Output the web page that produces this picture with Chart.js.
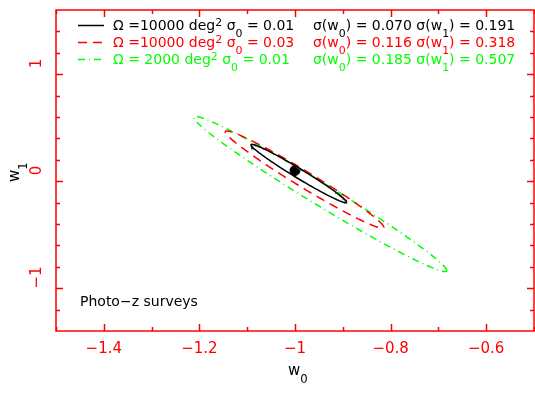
<!DOCTYPE html>
<html>
<head>
<meta charset="utf-8">
<script src="https://cdn.jsdelivr.net/npm/chart.js@4"></script>
<style>
  body { margin: 0; background: #fff; }
  #wrap { width: 535px; height: 393px; }
</style>
</head>
<body>
<div id="wrap"><canvas id="chart"></canvas></div>
<script>
// Surveys: sky area (deg^2), photo-z scatter, and forecast errors on w0 / w1
const areaDeg2 = [10000, 10000, 2000];
const sigmaZ = [0.01, 0.03, 0.01];
const sigmaW0 = [0.070, 0.116, 0.185];
const sigmaW1 = [0.191, 0.318, 0.507];
// contour centres and w0-w1 correlation
const centerW0 = [-0.992, -0.980, -0.947];
const centerW1 = [-0.028, -0.085, -0.220];
const corrW0W1 = [-0.982, -0.981, -0.986];
const fiducial = [-1, 0];
const xTicks = [-1.4, -1.2, -1, -0.8, -0.6];
const yTicks = [-1, 0, 1];
const panelLabel = 'Photo\u2212z surveys';

const colors = ['#000000', '#ff0000', '#00ff00'];
const dashes = [[], [9, 6], [7, 4, 1, 4]];
const CL = 1.43;   // contour radius in units of sigma
const FONT = '"DejaVu Sans", sans-serif';
const RED = '#ff0000';

function contour(i) {
    const pts = [];
    const n = 240;
    const r = corrW0W1[i];
    const q = Math.sqrt(1 - r * r);
    for (let k = 0; k <= n; k++) {
        const t = 2 * Math.PI * k / n;
        pts.push({
            x: centerW0[i] + CL * sigmaW0[i] * Math.cos(t),
            y: centerW1[i] + CL * sigmaW1[i] * (r * Math.cos(t) + q * Math.sin(t))
        });
    }
    return pts;
}

function minus(v) {
    return String(v).replace('-', '\u2212');
}

// text with _{sub} and ^{sup} parts
function drawRich(ctx, str, x, y, size, color) {
    const parts = str.split(/([_^]\{[^}]*\})/);
    ctx.fillStyle = color;
    ctx.textAlign = 'left';
    ctx.textBaseline = 'alphabetic';
    for (const p of parts) {
        if (!p) continue;
        let txt = p, fs = size, dy = 0;
        if (p[0] === '_') { txt = p.slice(2, -1); fs = size * 0.78; dy = size * 0.5; }
        else if (p[0] === '^') { txt = p.slice(2, -1); fs = size * 0.78; dy = -size * 0.26; }
        ctx.font = fs + 'px ' + FONT;
        ctx.fillText(txt, x, y + dy);
        x += ctx.measureText(txt).width;
    }
}

// red frame with inward ticks on all four sides, legend and labels
const framePlugin = {
    id: 'frame',
    afterDatasetsDraw(chart) {
        const ctx = chart.ctx;
        const a = chart.chartArea;
        const xs = chart.scales.x, ys = chart.scales.y;
        ctx.save();
        ctx.strokeStyle = RED;
        ctx.lineWidth = 1.5;
        ctx.strokeRect(a.left, a.top, a.right - a.left, a.bottom - a.top);
        ctx.beginPath();
        for (let k = 0; k <= 10; k++) {
            const v = -1.5 + k * 0.1;
            const px = Math.round(xs.getPixelForValue(v)) + 0.5;
            const len = k % 2 === 1 ? 7 : 4;
            ctx.moveTo(px, a.bottom); ctx.lineTo(px, a.bottom - len);
            ctx.moveTo(px, a.top); ctx.lineTo(px, a.top + len);
        }
        for (let k = 1; k < 15; k++) {
            const v = -1.5 + k * 0.2;
            const py = Math.round(ys.getPixelForValue(v)) + 0.5;
            const len = (k - 2) % 5 === 0 ? 7 : 4;
            ctx.moveTo(a.left, py); ctx.lineTo(a.left + len, py);
            ctx.moveTo(a.right, py); ctx.lineTo(a.right - len, py);
        }
        ctx.stroke();
        ctx.restore();
    },
    afterDraw(chart) {
        const ctx = chart.ctx;
        ctx.save();
        const baselines = [29.5, 46.5, 63.5];
        for (let i = 0; i < 3; i++) {
            const yb = baselines[i];
            ctx.strokeStyle = colors[i];
            ctx.lineWidth = 1.5;
            ctx.setLineDash(dashes[i]);
            ctx.beginPath();
            ctx.moveTo(78, yb - 4);
            ctx.lineTo(104, yb - 4);
            ctx.stroke();
            ctx.setLineDash([]);
            const left = '\u03a9 =' + String(areaDeg2[i]).padStart(5, ' ') +
                ' deg^{2} \u03c3_{0} = ' + sigmaZ[i].toFixed(2);
            const right = '\u03c3(w_{0}) = ' + sigmaW0[i].toFixed(3) +
                ' \u03c3(w_{1}) = ' + sigmaW1[i].toFixed(3);
            drawRich(ctx, left, 113, yb, 14, colors[i]);
            drawRich(ctx, right, 313, yb, 14, colors[i]);
        }
        drawRich(ctx, panelLabel, 80, 306, 14, '#000');
        // axis titles
        drawRich(ctx, 'w_{0}', 288, 375, 15, '#000');
        ctx.translate(19, 182);
        ctx.rotate(-Math.PI / 2);
        drawRich(ctx, 'w_{1}', 0, 0, 15, '#000');
        ctx.restore();
    }
};

const datasets = [0, 1, 2].map(i => ({
    data: contour(i),
    showLine: true,
    borderColor: colors[i],
    borderWidth: 1.5,
    borderDash: dashes[i],
    pointRadius: 0,
    fill: false
}));
datasets.push({
    data: [{ x: fiducial[0], y: fiducial[1] }],
    pointRadius: 5,
    pointBackgroundColor: '#000',
    pointBorderColor: '#000',
    showLine: false
});

new Chart(document.getElementById('chart'), {
    type: 'scatter',
    data: { datasets: datasets },
    options: {
        responsive: true,
        maintainAspectRatio: false,
        animation: false,
        layout: { autoPadding: false, padding: { top: 10, right: 1, left: 0, bottom: 0 } },
        plugins: { legend: { display: false }, tooltip: { enabled: false } },
        scales: {
            x: {
                type: 'linear',
                min: -1.5,
                max: -0.5,
                afterBuildTicks: s => { s.ticks = xTicks.map(v => ({ value: v })); },
                afterFit: s => { s.height = 62; s.paddingLeft = 0; s.paddingRight = 0; },
                grid: { display: false, drawTicks: false },
                border: { display: false },
                ticks: {
                    color: RED,
                    padding: 9,
                    font: { family: FONT, size: 15 },
                    callback: v => minus(v)
                }
            },
            y: {
                type: 'linear',
                min: -1.5,
                max: 1.5,
                afterBuildTicks: s => { s.ticks = yTicks.map(v => ({ value: v })); },
                afterFit: s => { s.width = 56; s.paddingTop = 0; s.paddingBottom = 0; },
                grid: { display: false, drawTicks: false },
                border: { display: false },
                ticks: {
                    color: RED,
                    padding: 8,
                    minRotation: 90,
                    maxRotation: 90,
                    crossAlign: 'center',
                    font: { family: FONT, size: 15 },
                    callback: v => minus(v)
                }
            }
        }
    },
    plugins: [framePlugin]
});
</script>
</body>
</html>
